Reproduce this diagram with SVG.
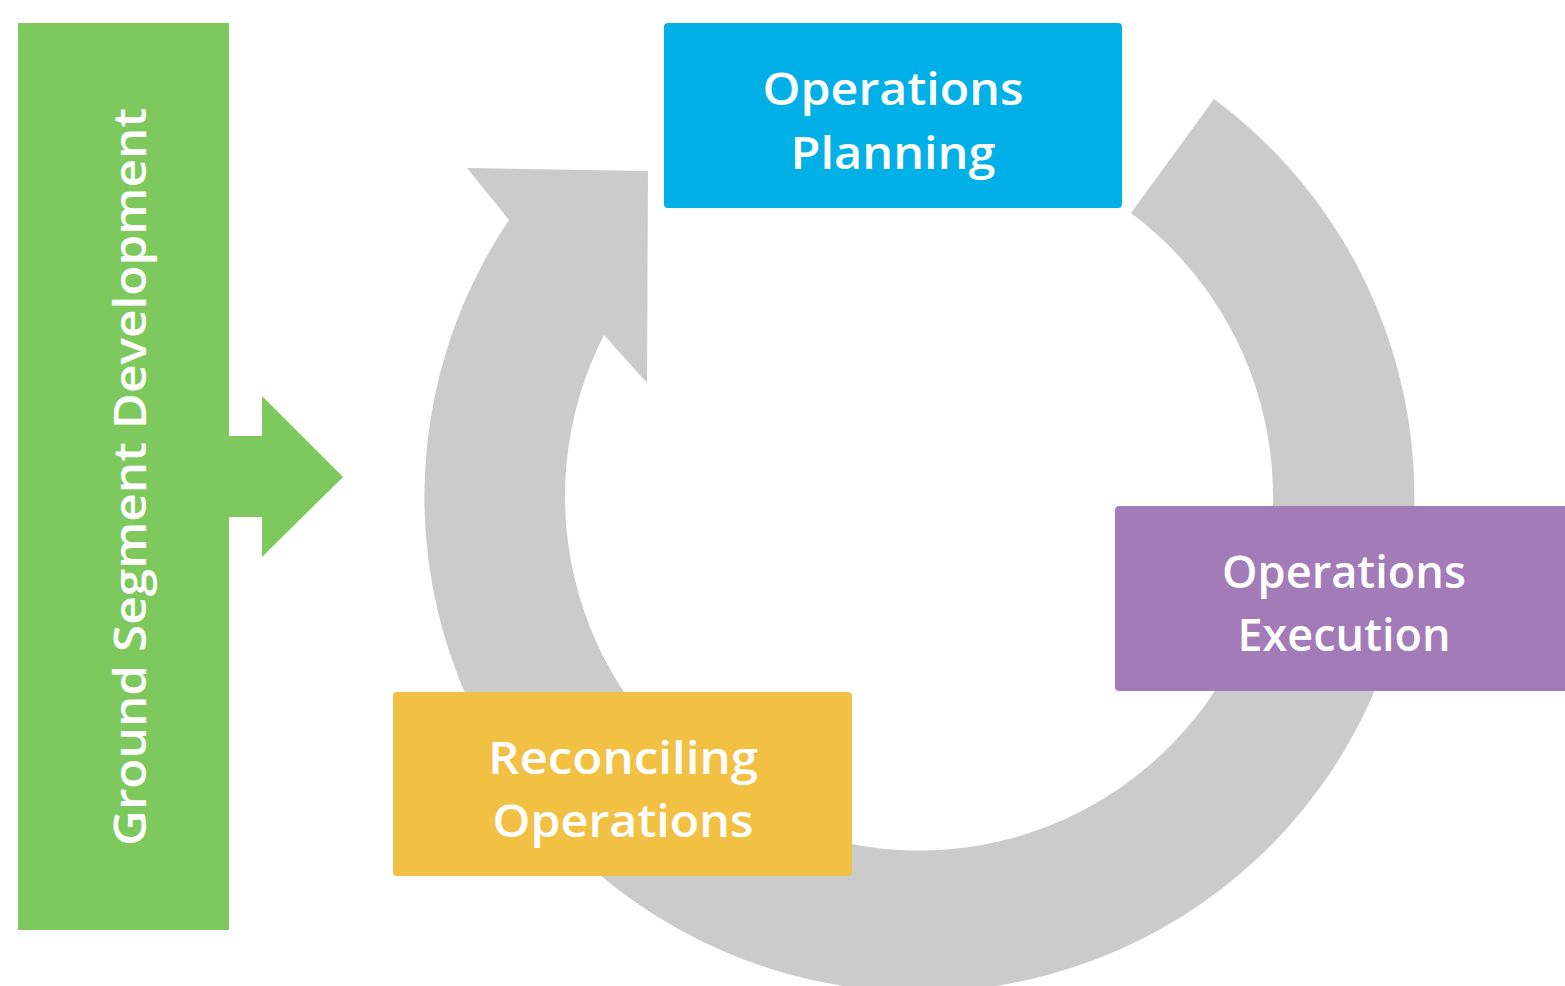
<svg xmlns="http://www.w3.org/2000/svg" width="1565" height="986" viewBox="0 0 1565 986">
<style>
.lbl{font-family:"Open Sans","Liberation Sans",sans-serif;font-weight:600;fill:#ffffff;text-anchor:middle;font-size:46px}
</style>
<rect width="1565" height="986" fill="#ffffff"/>
<g id="connectors">
<path id="cycle" d="M 1214 99 A 495 495 0 1 1 509 220 L 467 168 L 648 171 L 647 383 L 604 335 A 354 354 0 1 0 1131 213 Z" fill="#cbcbcb"/>
</g>
<g id="ground-segment">
<rect x="18" y="23" width="211" height="907" fill="#7dc95e"/>
<polygon points="228,436 262,436 262,396 343,477 262,557 262,517 228,517" fill="#7dc95e"/>
<text class="lbl" transform="translate(146,477) rotate(-90)" textLength="738" lengthAdjust="spacingAndGlyphs">Ground Segment Development</text>
</g>
<g id="planning">
<rect x="664" y="23" width="458" height="185" rx="4" fill="#00b0e6"/>
<text class="lbl" x="893" y="105" textLength="261" lengthAdjust="spacingAndGlyphs">Operations</text>
<text class="lbl" x="893" y="169" textLength="205" lengthAdjust="spacingAndGlyphs">Planning</text>
</g>
<g id="execution">
<rect x="1115" y="506" width="460" height="185" rx="4" fill="#a27bb8"/>
<text class="lbl" x="1344" y="588" textLength="244" lengthAdjust="spacingAndGlyphs">Operations</text>
<text class="lbl" x="1344" y="651" textLength="213" lengthAdjust="spacingAndGlyphs">Execution</text>
</g>
<g id="reconciling">
<rect x="393" y="692" width="459" height="184" rx="4" fill="#f2c144"/>
<text class="lbl" x="623" y="774" textLength="270" lengthAdjust="spacingAndGlyphs">Reconciling</text>
<text class="lbl" x="623" y="837" textLength="261" lengthAdjust="spacingAndGlyphs">Operations</text>
</g>
</svg>
